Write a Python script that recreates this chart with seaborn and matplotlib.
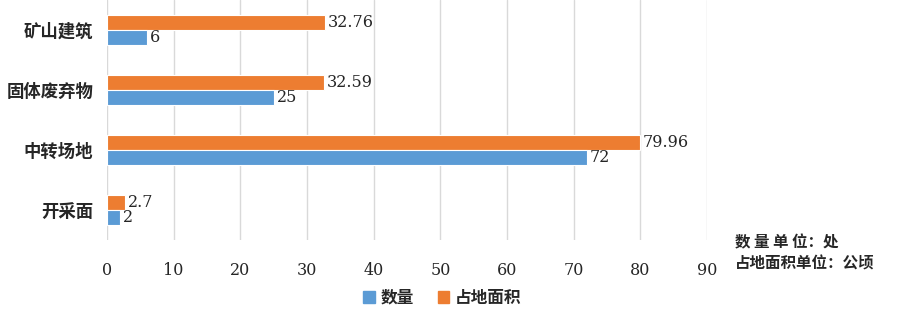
import seaborn as sns
import matplotlib.pyplot as plt
import pandas as pd
from matplotlib.patches import Patch

# data
categories = ['矿山建筑', '固体废弃物', '中转场地', '开采面']
counts = [6, 25, 72, 2]
areas = [32.76, 32.59, 79.96, 2.7]
series_names = ['数量', '占地面积']
x_ticks = [0, 10, 20, 30, 40, 50, 60, 70, 80, 90]

blue = '#5B9BD5'
orange = '#ED7D31'

df = pd.DataFrame({
    'category': categories * 2,
    'value': counts + areas,
    'series': [series_names[0]] * 4 + [series_names[1]] * 4,
})

sns.set_style('white')
plt.rcParams['font.family'] = ['Noto Sans CJK SC', 'DejaVu Sans']

fig = plt.figure(figsize=(9.03, 3.09), dpi=100)
ax = fig.add_axes([0.1185, 0.223, 0.783 - 0.1185, 0.777])

# orange series drawn on top within each group
sns.barplot(data=df, x='value', y='category', hue='series',
            hue_order=['占地面积', '数量'], order=categories,
            palette={'数量': blue, '占地面积': orange}, saturation=1,
            width=0.5, orient='h', edgecolor='white', linewidth=0.8,
            legend=False, ax=ax)

for cont in ax.containers:
    labels = [f'{v:g}' for v in cont.datavalues]
    ax.bar_label(cont, labels=labels, padding=2, fontsize=11.5,
                 family='DejaVu Serif')

ax.set_xlim(0, 90)
ax.set_xticks(x_ticks)
ax.set_xticklabels([str(t) for t in x_ticks], family='DejaVu Serif', fontsize=11.5)
ax.tick_params(axis='x', length=0, pad=16)
ax.tick_params(axis='y', length=0, pad=10)
for lab in ax.get_yticklabels():
    lab.set_fontweight('bold')
    lab.set_fontsize(12.5)
ax.set_xlabel('')
ax.set_ylabel('')
ax.grid(axis='x', color='#D9D9D9', linewidth=1)
ax.set_axisbelow(True)
sns.despine(ax=ax, left=True, bottom=True)

handles = [Patch(color=blue, label='数量'), Patch(color=orange, label='占地面积')]
fig.legend(handles=handles, loc='center', bbox_to_anchor=(0.49, 0.036), ncol=2,
           frameon=False, handlelength=0.7, handleheight=0.7,
           handletextpad=0.35, columnspacing=1.4, prop={'weight': 'bold', 'size': 12})

fig.text(0.814, 0.217, '数 量 单 位：处', fontsize=11.2, fontweight='bold', va='center')
fig.text(0.814, 0.146, '占地面积单位：公顷', fontsize=11.2, fontweight='bold', va='center')

fig.savefig('out.png', dpi=100)
